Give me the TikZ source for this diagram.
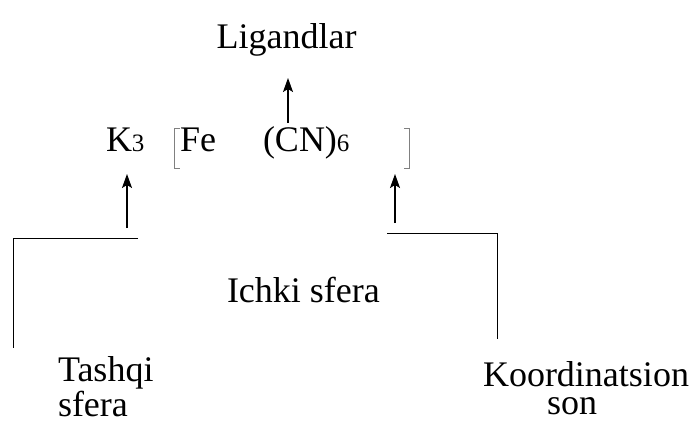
\documentclass[tikz,border=0pt]{standalone}
\usepackage{fontspec}
\setmainfont{Liberation Serif}
\usetikzlibrary{arrows.meta}
\begin{document}
\begin{tikzpicture}[x=1pt,y=-1pt,
  lbl/.style={inner sep=0pt,outer sep=0pt,font=\fontsize{36}{28}\selectfont},
  twoline/.style={lbl,align=left,anchor=base west},
  arr/.style={line width=1.3pt,-{Stealth[length=14pt,width=10pt,inset=3pt]}},
  frame/.style={line width=1pt},
  brk/.style={line width=0.8pt,draw=gray}]
\useasboundingbox (0,0) rectangle (698,421);
% texts
\node[lbl,anchor=base] (lig) at (286.5,48) {Ligandlar};
\node[lbl,anchor=base west] (k3) at (106,151) {K\fontsize{25}{25}\selectfont 3};
\node[lbl,anchor=base west] (fe) at (180,151) {Fe};
\node[lbl,anchor=base west] (cn) at (263,151) {(CN)\fontsize{25}{25}\selectfont 6};
\node[lbl,anchor=base west] (ich) at (227,302) {Ichki sfera};
\node[twoline,font=\fontsize{36}{26}\selectfont] (tash) at (58,416) {Tashqi\\sfera};
\node[twoline,font=\fontsize{36}{28}\selectfont] (koor) at (483,414) {Koordinatsion\\\hspace*{64pt}son};
% brackets
\draw[brk] (180,128) -- (174.5,128) -- (174.5,168) -- (180,168);
\draw[brk] (404,128) -- (409.5,128) -- (409.5,168) -- (404,168);
% arrow coordinates
\coordinate (a1s) at (288,123);
\coordinate (a1e) at (288,78);
\coordinate (a2s) at (127,228);
\coordinate (a2e) at (127,174);
\coordinate (a3s) at (395,223);
\coordinate (a3e) at (395,174);
\draw[arr] (a1s) -- (a1e);
\draw[arr] (a2s) -- (a2e);
\draw[arr] (a3s) -- (a3e);
% frame lines
\coordinate (l1) at (138,238);
\coordinate (l2) at (13,238);
\coordinate (l3) at (13,348);
\coordinate (r1) at (387,233);
\coordinate (r2) at (497,233);
\coordinate (r3) at (497,339);
\draw[frame] (l1) -- (l2) -- (l3);
\draw[frame] (r1) -- (r2) -- (r3);
\end{tikzpicture}
\end{document}
